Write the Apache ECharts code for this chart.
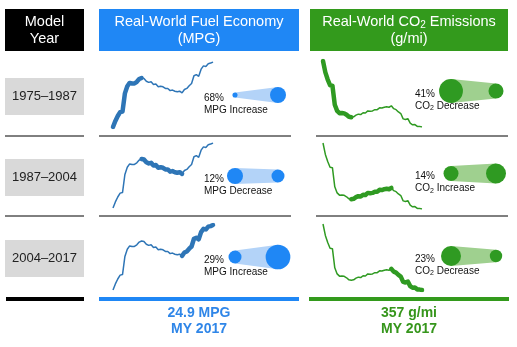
<!DOCTYPE html>
<html><head><meta charset="utf-8">
<script src="https://cdn.jsdelivr.net/npm/echarts@6.0.0/dist/echarts.min.js"></script>
<style>html,body{margin:0;padding:0;background:#fff}#c{width:517px;height:347px}</style>
</head><body><div id="c"></div>
<script>
// ---------- DATA ----------
const years = [1975,1976,1977,1978,1979,1980,1981,1982,1983,1984,1985,1986,1987,1988,1989,1990,1991,1992,1993,1994,1995,1996,1997,1998,1999,2000,2001,2002,2003,2004,2005,2006,2007,2008,2009,2010,2011,2012,2013,2014,2015,2016,2017];
const mpg = [13.1,14.2,15.1,15.8,15.9,19.2,20.5,21.1,21.0,21.0,21.3,21.8,22.0,21.9,21.4,21.2,21.3,20.8,20.9,20.4,20.5,20.4,20.1,20.1,19.7,19.8,19.6,19.5,19.6,19.3,19.9,20.1,20.6,21.0,22.4,22.6,22.3,23.6,24.2,24.1,24.6,24.7,24.9];
const co2 = [681,625,590,562,560,466,436,425,426,424,417,407,405,407,415,420,418,427,426,436,434,436,442,442,451,450,454,456,454,461,447,442,431,423,397,394,398,376,368,369,360,359,357];
const periods = ['1975\u20131987','1987\u20132004','2004\u20132017'];
const periodStart = [1975,1987,2004];
const periodEnd = [1987,2004,2017];
const latestYear = 2017;

// ---------- STYLE ----------
const FONT = '"Liberation Sans", Arial, sans-serif';
const BLUE_HDR = '#1f87f5', GREEN_HDR = '#339a1c';
const BLUE_LINE = '#2e75b6', GREEN_LINE = '#2f9a22';
const BLUE_CONE = '#b3d3f8', GREEN_CONE = '#9fd08f';
function knotScale(knots){
  return function(v){
    for (let i=0;i<knots.length-1;i++){
      const a=knots[i], b=knots[i+1];
      if (v<=b[0] || i===knots.length-2){
        const t=(v-a[0])/(b[0]-a[0]);
        return a[1]+t*(b[1]-a[1]);
      }
    }
  };
}
const radMPG = knotScale([[13,2.5],[19.3,6.5],[22,8],[25,12.5]]);
const radCO2 = knotScale([[350,6],[405,7.5],[461,10],[690,12]]);

const grids=[], xAxes=[], yAxes=[], series=[];
function addPanel(left, top, width, height, values, color, r){
  const gi = grids.length;
  grids.push({left, top, width, height});
  xAxes.push({type:'value', gridIndex:gi, min:'dataMin', max:'dataMax', show:false});
  yAxes.push({type:'value', gridIndex:gi, min:'dataMin', max:'dataMax', scale:true, show:false});
  const full = years.map((y,i)=>[y, values[i]]);
  const seg = full.filter(d=>d[0]>=periodStart[r] && d[0]<=periodEnd[r]);
  series.push({type:'line', xAxisIndex:gi, yAxisIndex:gi, data:full, symbol:'none', silent:true,
    lineStyle:{width:1.5, color:color}});
  series.push({type:'line', xAxisIndex:gi, yAxisIndex:gi, data:seg, symbol:'none', silent:true,
    lineStyle:{width:4.5, color:color, cap:'round', join:'round'}});
}
const rowTopsMPG=[62,143,225], rowTopsCO2=[61,143,224];
for (let r=0;r<3;r++){
  addPanel(113, rowTopsMPG[r], 100, 65, mpg, BLUE_LINE, r);
  addPanel(323, rowTopsCO2[r], 99, 66, co2, GREEN_LINE, r);
}

function addBubbles(left, top, width, height, values, color, cone, rad, metricRich, textDx){
  const gi = grids.length;
  grids.push({left, top, width, height});
  xAxes.push({type:'category', gridIndex:gi, data:['start','end'], boundaryGap:false, show:false});
  yAxes.push({type:'category', gridIndex:gi, data:periods, boundaryGap:false, inverse:true, show:false});
  const data = periods.map((p,r)=>[0, r, values[years.indexOf(periodStart[r])], values[years.indexOf(periodEnd[r])]]);
  series.push({type:'custom', xAxisIndex:gi, yAxisIndex:gi, data, silent:true, encode:{x:0,y:1},
    renderItem:function(params, api){
      const r = api.value(1), v1 = api.value(2), v2 = api.value(3);
      const p1 = api.coord([0, r]), p2 = api.coord([1, r]);
      const r1 = rad(v1), r2 = rad(v2);
      const ch = v2/v1 - 1;
      const pct = Math.round(Math.abs(ch)*100) + '%';
      const word = ch > 0 ? 'Increase' : 'Decrease';
      return {type:'group', children:[
        {type:'polygon', shape:{points:[[p1[0],p1[1]-r1],[p2[0],p2[1]-r2],[p2[0],p2[1]+r2],[p1[0],p1[1]+r1]]}, style:{fill:cone}},
        {type:'circle', shape:{cx:p1[0], cy:p1[1], r:r1}, style:{fill:color}},
        {type:'circle', shape:{cx:p2[0], cy:p2[1], r:r2}, style:{fill:color}},
        {type:'text', x:p1[0]+textDx, y:p1[1]+3, style:{text:pct, fontFamily:FONT, fontSize:10, fill:'#111', verticalAlign:'middle'}},
        {type:'text', x:p1[0]+textDx, y:p1[1]+15, style:{text:metricRich + '{t| ' + word + '}', fontFamily:FONT, fontSize:10, fill:'#111', verticalAlign:'middle',
          rich:{t:{fontFamily:FONT,fontSize:10,fill:'#111',lineHeight:12,verticalAlign:'middle'},
                s:{fontFamily:FONT,fontSize:7,fill:'#111',lineHeight:12,verticalAlign:'bottom'}}}}
      ]};
    }});
}
addBubbles(235, 95, 43, 162, mpg, BLUE_HDR, BLUE_CONE, radMPG, '{t|MPG}', -31);
addBubbles(451, 91, 45, 165, co2, GREEN_LINE, GREEN_CONE, radCO2, '{t|CO}{s|2}', -36);

// ---------- GRAPHIC LAYOUT ----------
const g = [];
function rect(x,y,w,h,fill){ g.push({type:'rect', shape:{x,y,width:w,height:h}, style:{fill}, silent:true}); }
function text(x,y,t,opts){ g.push({type:'text', x, y, silent:true, style:Object.assign({text:t, fontFamily:FONT, align:'center', verticalAlign:'middle'}, opts)}); }
rect(5,9,79,42,'#000');
rect(99,9,200,42,BLUE_HDR);
rect(310,9,198,42,GREEN_HDR);
text(44.5,30.5,'Model\nYear',{fontSize:14.5, lineHeight:17, fill:'#fff'});
text(199,30.5,'Real-World Fuel Economy\n(MPG)',{fontSize:14.5, lineHeight:17, fill:'#fff'});
g.push({type:'text', x:409, y:30.5, silent:true, style:{
  text:'{a|Real-World CO}{s|2}{a| Emissions}\n{a|(g/mi)}', align:'center', verticalAlign:'middle',
  rich:{a:{fontFamily:FONT,fontSize:14.5,lineHeight:17,fill:'#fff',verticalAlign:'middle'},
        s:{fontFamily:FONT,fontSize:10,lineHeight:17,fill:'#fff',verticalAlign:'bottom'}}}});
const rowY=[78,159,240];
periods.forEach((p,r)=>{
  rect(5,rowY[r],79,37,'#d9d9d9');
  text(44.5,rowY[r]+18.5,p,{fontSize:13, fill:'#222'});
});
[136,216].forEach(y=>{
  [[5,84],[99,291],[316,508]].forEach(s=>g.push({type:'line', silent:true, shape:{x1:s[0],y1:y,x2:s[1],y2:y}, style:{stroke:'#000', lineWidth:1}}));
});
rect(6,297,78,4,'#000');
rect(99,297,200,4,BLUE_HDR);
rect(309,297,200,4,GREEN_HDR);
const lastMPG = mpg[years.indexOf(latestYear)], lastCO2 = co2[years.indexOf(latestYear)];
text(199,321,lastMPG.toFixed(1)+' MPG\nMY '+latestYear,{fontSize:14, fontWeight:'bold', lineHeight:16, fill:'#2f86e8'});
text(409,321,lastCO2+' g/mi\nMY '+latestYear,{fontSize:14, fontWeight:'bold', lineHeight:16, fill:'#36961c'});

const chart = echarts.init(document.getElementById('c'), null, {renderer:'canvas'});
chart.setOption({animation:false, grid:grids, xAxis:xAxes, yAxis:yAxes, series, graphic:g});
</script></body></html>
